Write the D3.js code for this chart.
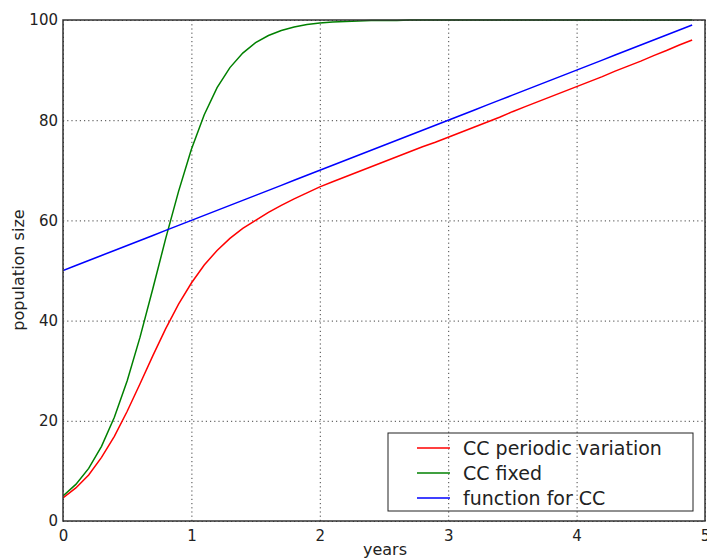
<!DOCTYPE html>
<html>
<head>
<meta charset="utf-8">
<script src="https://cdn.jsdelivr.net/npm/d3@7"></script>
<style>
  body { margin: 0; background: #fff; }
  text { font-family: "DejaVu Sans", Verdana, sans-serif; fill: #222; }
</style>
</head>
<body>
<svg id="chart"></svg>
<script>
// time in years, step 0.1
const years = d3.range(50).map(i => +(i / 10).toFixed(1));

const ccPeriodic = [4.6, 6.6, 9.2, 12.7, 16.9, 21.9, 27.4, 33.0, 38.4, 43.3,
    47.5, 51.1, 54.0, 56.4, 58.4, 60.0, 61.6, 63.0, 64.3, 65.5,
    66.7, 67.7, 68.7, 69.7, 70.7, 71.7, 72.7, 73.7, 74.7, 75.6,
    76.6, 77.6, 78.6, 79.6, 80.6, 81.7, 82.7, 83.7, 84.7, 85.7,
    86.7, 87.7, 88.7, 89.8, 90.8, 91.8, 92.9, 93.9, 95.0, 96.0];

const ccFixed = [5.0, 7.3, 10.5, 14.9, 20.7, 28.0, 36.7, 46.4, 56.4, 65.8,
    74.2, 81.1, 86.5, 90.5, 93.4, 95.5, 96.9, 97.9, 98.6, 99.1,
    99.4, 99.6, 99.7, 99.8, 99.9, 99.9, 99.9, 100, 100, 100,
    100, 100, 100, 100, 100, 100, 100, 100, 100, 100,
    100, 100, 100, 100, 100, 100, 100, 100, 100, 100];

const ccFunction = [50, 51, 52, 53, 54, 55, 56, 57, 58, 59,
    60, 61, 62, 63, 64, 65, 66, 67, 68, 69,
    70, 71, 72, 73, 74, 75, 76, 77, 78, 79,
    80, 81, 82, 83, 84, 85, 86, 87, 88, 89,
    90, 91, 92, 93, 94, 95, 96, 97, 98, 99];

const xTicks = [0, 1, 2, 3, 4, 5];
const yTicks = [0, 20, 40, 60, 80, 100];

const series = [
    { name: "CC periodic variation", values: ccPeriodic, color: "#ff0000" },
    { name: "CC fixed", values: ccFixed, color: "#008000" },
    { name: "function for CC", values: ccFunction, color: "#0000ff" }
];

const width = 707;
const height = 558;
const margin = { top: 20, right: 2, bottom: 37, left: 63 };
const bodyWidth = width - margin.left - margin.right;
const bodyHeight = height - margin.top - margin.bottom;

const svg = d3.select("#chart")
    .attr("width", width)
    .attr("height", height);

const xScale = d3.scaleLinear().domain([0, 5]).range([0, bodyWidth]);
const yScale = d3.scaleLinear().domain([0, 100]).range([bodyHeight, 0]);

const body = svg.append("g")
    .attr("transform", `translate(${margin.left},${margin.top})`);

// dotted grid
body.append("g")
    .attr("class", "grid")
    .attr("transform", `translate(0,${bodyHeight})`)
    .call(d3.axisBottom(xScale).tickValues(xTicks).tickSize(-bodyHeight).tickFormat(""))
    .call(g => g.select(".domain").remove());
body.append("g")
    .attr("class", "grid")
    .call(d3.axisLeft(yScale).tickValues(yTicks).tickSize(-bodyWidth).tickFormat(""))
    .call(g => g.select(".domain").remove());
body.selectAll(".grid line")
    .attr("stroke", "#444")
    .attr("stroke-width", 1)
    .attr("stroke-dasharray", "1.2,3");

svg.append("clipPath").attr("id", "clip")
    .append("rect").attr("x", 0).attr("y", -1).attr("width", bodyWidth).attr("height", bodyHeight + 1);

const line = d3.line()
    .x((d, i) => xScale(years[i]))
    .y(d => yScale(d));

body.append("g").attr("clip-path", "url(#clip)")
    .selectAll("path")
    .data(series)
    .enter()
    .append("path")
    .attr("d", d => line(d.values))
    .attr("fill", "none")
    .attr("stroke", d => d.color)
    .attr("stroke-width", 1.5);

// frame
body.append("rect")
    .attr("width", bodyWidth)
    .attr("height", bodyHeight)
    .attr("fill", "none")
    .attr("stroke", "#333")
    .attr("stroke-width", 1.5);

// tick labels
body.append("g")
    .attr("transform", `translate(0,${bodyHeight})`)
    .call(d3.axisBottom(xScale).tickValues(xTicks).tickFormat(d3.format("d")).tickSize(0).tickPadding(9))
    .call(g => g.select(".domain").remove())
    .selectAll("text")
    .style("font-size", "15px")
    .style("font-family", "DejaVu Sans")
    .attr("fill", "#222");

body.append("g")
    .call(d3.axisLeft(yScale).tickValues(yTicks).tickFormat(d3.format("d")).tickSize(0).tickPadding(5))
    .call(g => g.select(".domain").remove())
    .selectAll("text")
    .style("font-size", "15px")
    .style("font-family", "DejaVu Sans")
    .attr("fill", "#222");

// axis titles
svg.append("text")
    .attr("x", margin.left + bodyWidth / 2 + 1)
    .attr("y", 555)
    .attr("text-anchor", "middle")
    .style("font-size", "16px")
    .text("years");

svg.append("text")
    .attr("transform", "translate(24,270) rotate(-90)")
    .attr("text-anchor", "middle")
    .style("font-size", "16px")
    .text("population size");

// legend
const legend = body.append("g")
    .attr("transform", `translate(${388 - margin.left},${433 - margin.top})`);

legend.append("rect")
    .attr("width", 305)
    .attr("height", 78)
    .attr("fill", "none")
    .attr("stroke", "#222")
    .attr("stroke-width", 1);

const items = legend.selectAll(".item")
    .data(series)
    .enter()
    .append("g")
    .attr("class", "item")
    .attr("transform", (d, i) => `translate(0,${15 + i * 25})`);

items.append("line")
    .attr("x1", 29).attr("x2", 62)
    .attr("stroke", d => d.color)
    .attr("stroke-width", 1.5);

items.append("text")
    .attr("x", 75)
    .attr("dy", "0.35em")
    .style("font-size", "19px")
    .text(d => d.name);
</script>
</body>
</html>
